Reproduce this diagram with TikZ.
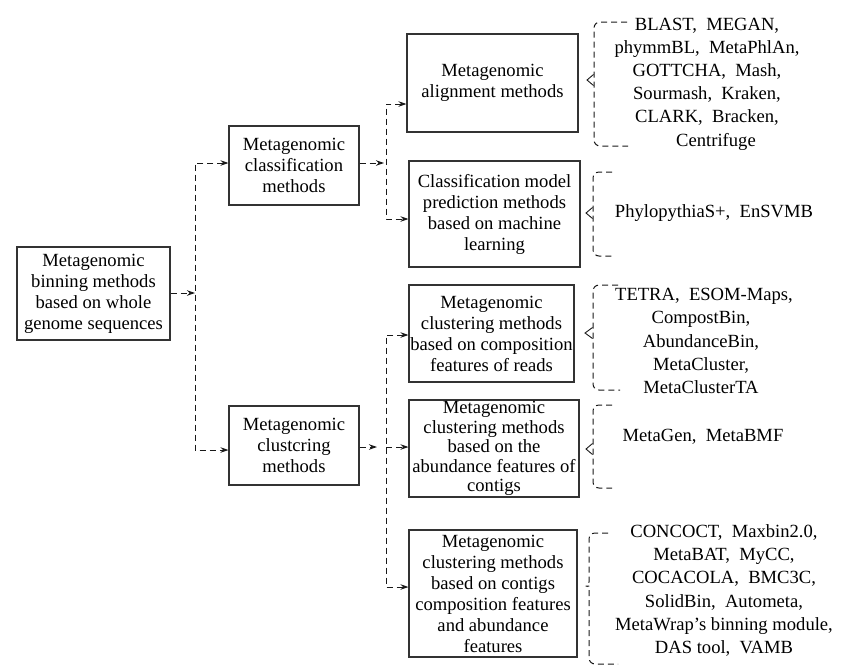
\documentclass[tikz,border=0pt]{standalone}
\usepackage{fontspec}
\setmainfont{Liberation Serif}
\usetikzlibrary{arrows.meta,calc}
\newcommand\dbrace[7]{%
  \draw[brc] (#6,#2) -- (#1,#2) -- (#1,#3) -- (#7,#3);
  \draw[tipc] (#1-0.5,#4-5.5) -- (#5,#4) -- (#1-0.5,#4+5.5);
}
\begin{document}
\begin{tikzpicture}[x=1pt,y=-1pt,
  box/.style={draw=black!80, line width=1.1pt, align=center, inner sep=0pt, font=\fontsize{18.6}{21}\selectfont},
  lst/.style={align=center, inner sep=0pt, font=\fontsize{18.6}{23.2}\selectfont},
  conn/.style={draw=black!90, line width=1pt, dash pattern=on 6pt off 4pt},
  arr/.style={-{Stealth[length=8pt,width=5.5pt]}},
  arrs/.style={{Stealth[length=8pt,width=5.5pt]}-{Stealth[length=8pt,width=5.5pt]}},
  brc/.style={draw=black!90, line width=1pt, dash pattern=on 6pt off 4pt, rounded corners=6pt},
  tipc/.style={draw=black!90, line width=0.9pt}]
\useasboundingbox (0,0) rectangle (845,670);

% boxes
\node[box, minimum width=153pt, minimum height=93pt] (root) at (93.5,293.5) {Metagenomic\\binning methods\\based on whole\\genome sequences};
\node[box, minimum width=130pt, minimum height=79pt] (cls) at (294,165.5) {Metagenomic\\classification\\methods};
\node[box, minimum width=130pt, minimum height=79pt] (clu) at (294,445.5) {Metagenomic\\clustcring\\methods};
\node[box, minimum width=171pt, minimum height=98pt] (align) at (492.5,83) {Metagenomic\\alignment methods};
\node[box, minimum width=171pt, minimum height=106pt] (model) at (494.5,214) {Classification model\\prediction methods\\based on machine\\learning};
\node[box, minimum width=165pt, minimum height=97pt] (reads) at (491.5,333.5) {Metagenomic\\clustering methods\\based on composition\\features of reads};
\node[box, minimum width=170pt, minimum height=97pt, font=\fontsize{18.6}{19.6}\selectfont] (abund) at (494,448.5) {Metagenomic\\clustering methods\\based on the\\abundance features of\\contigs};
\node[box, minimum width=168pt, minimum height=127pt] (contigs) at (493,593.5) {Metagenomic\\clustering methods\\based on contigs\\composition features\\and abundance\\features};

% lists
\node[lst] (l1) at (707,84) {BLAST,~ MEGAN,\\phymmBL,~ MetaPhlAn,\\GOTTCHA,~ Mash,\\Sourmash,~ Kraken,\\CLARK,~ Bracken,\\\hspace*{18pt}Centrifuge};
\node[lst] (l2) at (714,213) {PhylopythiaS+,~ EnSVMB};
\node[lst] (l3) at (701,341) {\hspace*{6pt}TETRA,~ ESOM-Maps,\\CompostBin,\\AbundanceBin,\\MetaCluster,\\MetaClusterTA};
\node[lst] (l4) at (703,437) {MetaGen,~ MetaBMF};
\node[lst] (l5) at (724,590.5) {CONCOCT,~ Maxbin2.0,\\MetaBAT,~ MyCC,\\COCACOLA,~ BMC3C,\\SolidBin,~ Autometa,\\MetaWrap’s binning module,\\DAS tool,~ VAMB};

% connectors
\coordinate (j1) at (195,293);
\coordinate (j1t) at (195,163);
\coordinate (j1b) at (195,450);
\draw[conn,arr] (root.east |- j1) -- (j1);
\draw[conn,arrs] (j1t -| cls.west) -- (j1t) -- (j1b) -- (j1b -| clu.west);

\coordinate (j2) at (386,163);
\coordinate (j2t) at (386,104);
\coordinate (j2b) at (386,219);
\draw[conn,arr,shorten >=2pt] (cls.east |- j2) -- (j2);
\draw[conn,arrs] (j2t -| align.west) -- (j2t) -- (j2b) -- (j2b -| model.west);

\coordinate (j3) at (386,447);
\coordinate (j3t) at (386,335);
\coordinate (j3b) at (386,587);
\draw[conn,arr,shorten >=9pt] (clu.east |- j3) -- (j3);
\draw[conn,arrs] (j3t -| reads.west) -- (j3t) -- (j3b) -- (j3b -| contigs.west);
\draw[conn,arr] (j3) -- (j3 -| abund.west);

% braces
\dbrace{594}{22}{146}{80}{587}{627}{628}
\dbrace{593}{172}{256}{213}{586}{612}{612}
\dbrace{593}{285}{390}{333}{585}{618}{620}
\dbrace{593}{405}{488}{449}{586}{612}{612}
\draw[brc] (608,533) -- (589,533) -- (589,576) .. controls (589,582) and (586,586) .. (582,586) .. controls (586,586) and (589,590) .. (589,596) -- (589,664) -- (618,664);
\end{tikzpicture}
\end{document}
